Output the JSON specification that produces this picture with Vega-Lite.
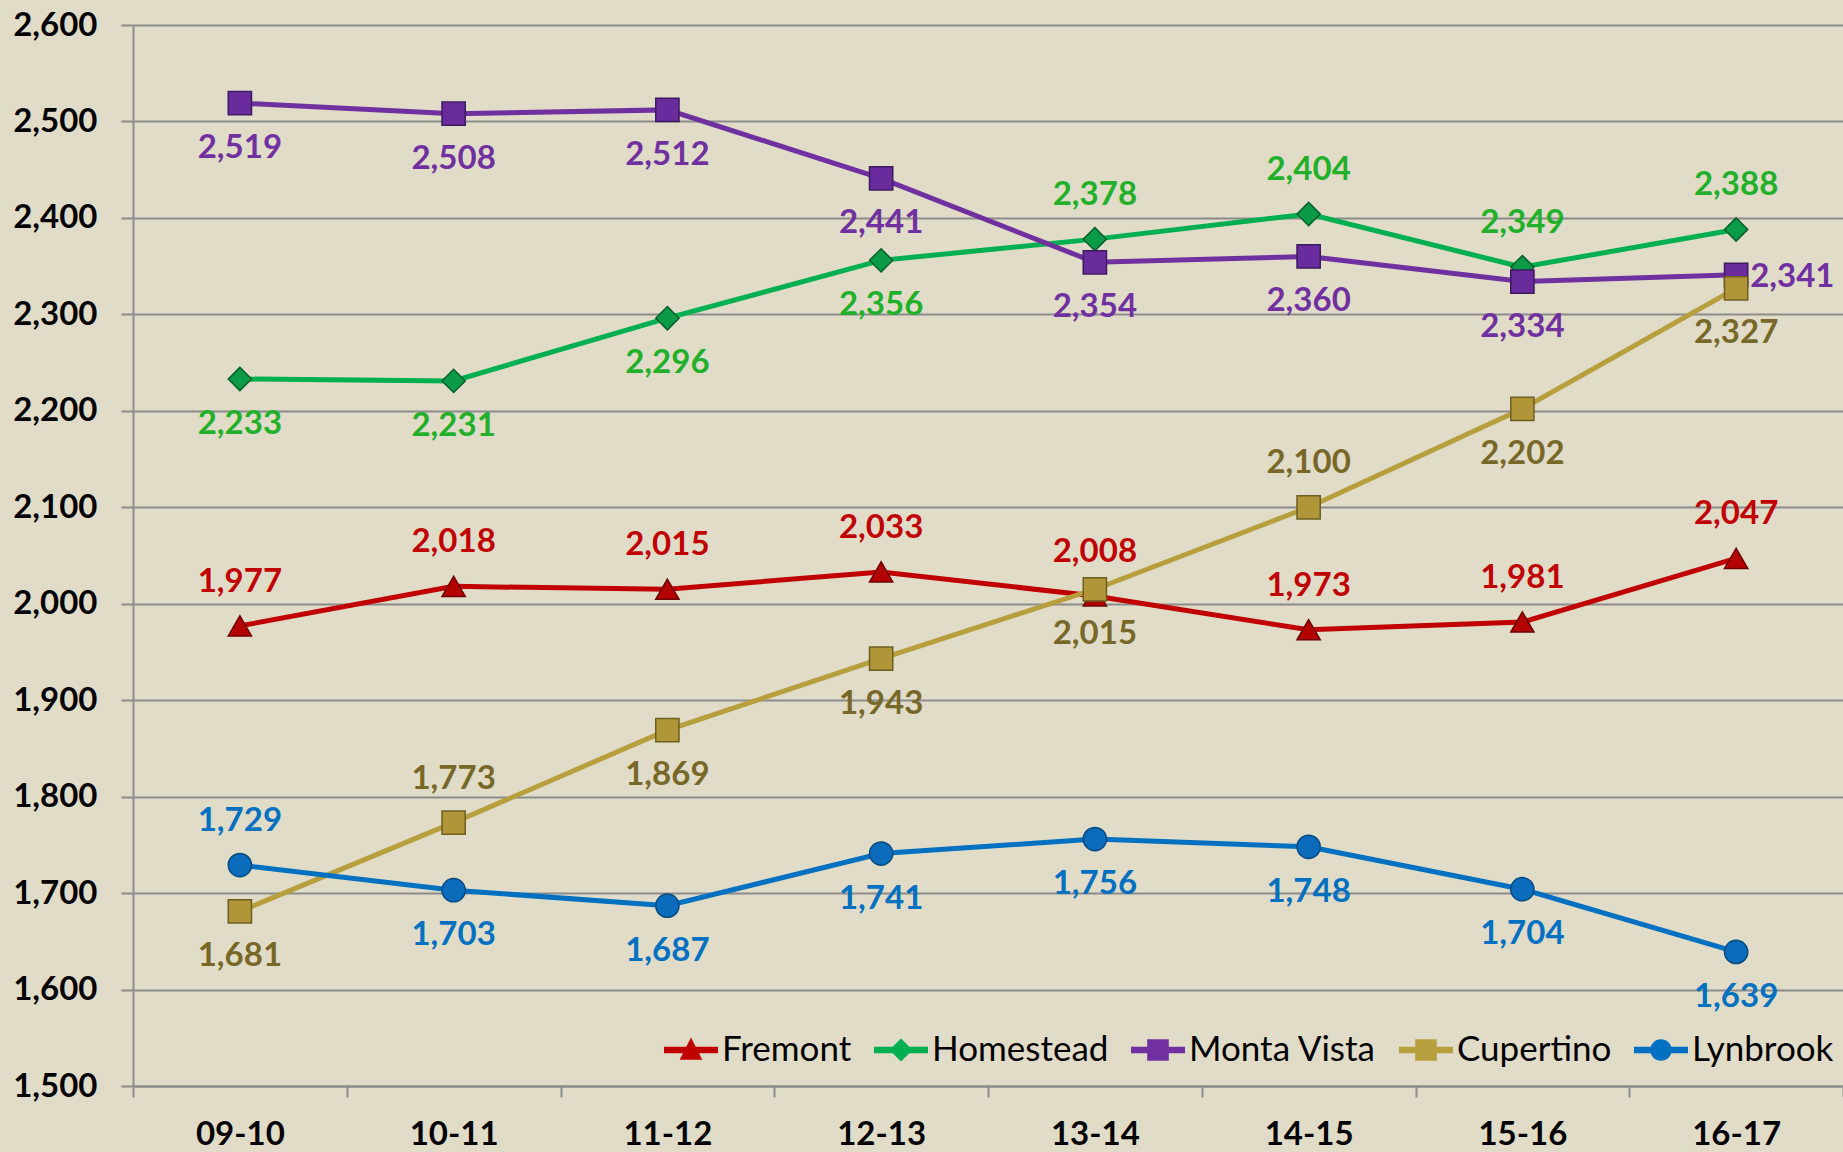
{
  "$schema": "https://vega.github.io/schema/vega-lite/v6.json",
  "width": 1710,
  "height": 1061,
  "autosize": {"type": "none"},
  "padding": {"left": 133, "top": 25, "right": 0, "bottom": 66},
  "background": "#e0dcc8",
  "config": {
    "font": "Lato",
    "view": {"stroke": null, "fill": "#e0dcc8"}
  },
  "data": {
    "values": [
      {"school": "Fremont", "year": "09-10", "value": 1977},
      {"school": "Fremont", "year": "10-11", "value": 2018},
      {"school": "Fremont", "year": "11-12", "value": 2015},
      {"school": "Fremont", "year": "12-13", "value": 2033},
      {"school": "Fremont", "year": "13-14", "value": 2008},
      {"school": "Fremont", "year": "14-15", "value": 1973},
      {"school": "Fremont", "year": "15-16", "value": 1981},
      {"school": "Fremont", "year": "16-17", "value": 2047},
      {"school": "Homestead", "year": "09-10", "value": 2233},
      {"school": "Homestead", "year": "10-11", "value": 2231},
      {"school": "Homestead", "year": "11-12", "value": 2296},
      {"school": "Homestead", "year": "12-13", "value": 2356},
      {"school": "Homestead", "year": "13-14", "value": 2378},
      {"school": "Homestead", "year": "14-15", "value": 2404},
      {"school": "Homestead", "year": "15-16", "value": 2349},
      {"school": "Homestead", "year": "16-17", "value": 2388},
      {"school": "Monta Vista", "year": "09-10", "value": 2519},
      {"school": "Monta Vista", "year": "10-11", "value": 2508},
      {"school": "Monta Vista", "year": "11-12", "value": 2512},
      {"school": "Monta Vista", "year": "12-13", "value": 2441},
      {"school": "Monta Vista", "year": "13-14", "value": 2354},
      {"school": "Monta Vista", "year": "14-15", "value": 2360},
      {"school": "Monta Vista", "year": "15-16", "value": 2334},
      {"school": "Monta Vista", "year": "16-17", "value": 2341},
      {"school": "Cupertino", "year": "09-10", "value": 1681},
      {"school": "Cupertino", "year": "10-11", "value": 1773},
      {"school": "Cupertino", "year": "11-12", "value": 1869},
      {"school": "Cupertino", "year": "12-13", "value": 1943},
      {"school": "Cupertino", "year": "13-14", "value": 2015},
      {"school": "Cupertino", "year": "14-15", "value": 2100},
      {"school": "Cupertino", "year": "15-16", "value": 2202},
      {"school": "Cupertino", "year": "16-17", "value": 2327},
      {"school": "Lynbrook", "year": "09-10", "value": 1729},
      {"school": "Lynbrook", "year": "10-11", "value": 1703},
      {"school": "Lynbrook", "year": "11-12", "value": 1687},
      {"school": "Lynbrook", "year": "12-13", "value": 1741},
      {"school": "Lynbrook", "year": "13-14", "value": 1756},
      {"school": "Lynbrook", "year": "14-15", "value": 1748},
      {"school": "Lynbrook", "year": "15-16", "value": 1704},
      {"school": "Lynbrook", "year": "16-17", "value": 1639}
    ]
  },
  "encoding": {
    "x": {
      "field": "year",
      "type": "ordinal",
      "sort": null,
      "scale": {"type": "band", "paddingInner": 0, "paddingOuter": 0},
      "axis": {
        "title": null,
        "tickBand": "extent",
        "labelAngle": 0,
        "labelFont": "Lato",
        "labelFontSize": 33,
        "labelFontWeight": "bold",
        "labelColor": "#000000",
        "labelPadding": 21,
        "tickSize": 11,
        "tickWidth": 2,
        "tickColor": "#8c8c8c",
        "domainColor": "#8c8c8c",
        "domainWidth": 2,
        "grid": false
      }
    },
    "y": {
      "field": "value",
      "type": "quantitative",
      "scale": {"domain": [1500, 2600], "nice": false, "zero": false},
      "axis": {
        "title": null,
        "values": [1500, 1600, 1700, 1800, 1900, 2000, 2100, 2200, 2300, 2400, 2500, 2600],
        "format": ",.0f",
        "labelFont": "Lato",
        "labelFontSize": 33,
        "labelFontWeight": "bold",
        "labelColor": "#000000",
        "labelPadding": 24,
        "tickSize": 12,
        "tickWidth": 2,
        "tickColor": "#8c8c8c",
        "domainColor": "#8c8c8c",
        "domainWidth": 2,
        "grid": true,
        "gridColor": "#8c8c8c",
        "gridWidth": 2
      }
    }
  },
  "layer": [
    {
      "mark": {"type": "line", "strokeWidth": 5},
      "encoding": {
        "color": {
          "field": "school",
          "type": "nominal",
          "scale": {
            "domain": ["Fremont", "Homestead", "Monta Vista", "Cupertino", "Lynbrook"],
            "range": ["#c00000", "#00b050", "#7030a0", "#b89f3e", "#0070c0"]
          },
          "legend": null
        }
      }
    },
    {
      "mark": {"type": "point", "filled": true, "size": 540, "strokeWidth": 1.5, "opacity": 1},
      "encoding": {
        "shape": {
          "field": "school",
          "type": "nominal",
          "scale": {
            "domain": ["Fremont", "Homestead", "Monta Vista", "Cupertino", "Lynbrook"],
            "range": ["triangle-up", "diamond", "square", "square", "circle"]
          },
          "legend": null
        },
        "fill": {
          "field": "school",
          "type": "nominal",
          "scale": {
            "domain": ["Fremont", "Homestead", "Monta Vista", "Cupertino", "Lynbrook"],
            "range": ["#b50000", "#0a9a48", "#6a2c9c", "#b09638", "#0a6cba"]
          },
          "legend": null
        },
        "stroke": {
          "field": "school",
          "type": "nominal",
          "scale": {
            "domain": ["Fremont", "Homestead", "Monta Vista", "Cupertino", "Lynbrook"],
            "range": ["#6e0000", "#05602c", "#3e1a60", "#6e5f20", "#064a80"]
          },
          "legend": null
        }
      }
    },
    {
      "transform": [
        {"filter": "datum.school === 'Fremont' || (datum.school === 'Homestead' && (datum.year === '13-14' || datum.year === '14-15' || datum.year === '15-16' || datum.year === '16-17')) || (datum.school === 'Cupertino' && (datum.year === '10-11' || datum.year === '14-15')) || (datum.school === 'Lynbrook' && datum.year === '09-10')"}
      ],
      "mark": {"type": "text", "dy": -44, "baseline": "middle", "align": "center", "font": "Lato", "fontSize": 33, "fontWeight": "bold"},
      "encoding": {
        "text": {"field": "value", "type": "quantitative", "format": ","},
        "color": {
          "field": "school",
          "type": "nominal",
          "scale": {
            "domain": ["Fremont", "Homestead", "Monta Vista", "Cupertino", "Lynbrook"],
            "range": ["#c00000", "#22b02a", "#7030a0", "#786828", "#0070c0"]
          },
          "legend": null
        }
      }
    },
    {
      "transform": [
        {"filter": "!(datum.school === 'Fremont' || (datum.school === 'Homestead' && (datum.year === '13-14' || datum.year === '14-15' || datum.year === '15-16' || datum.year === '16-17')) || (datum.school === 'Cupertino' && (datum.year === '10-11' || datum.year === '14-15')) || (datum.school === 'Lynbrook' && datum.year === '09-10')) && !(datum.school === 'Monta Vista' && datum.year === '16-17')"}
      ],
      "mark": {"type": "text", "dy": 45, "baseline": "middle", "align": "center", "font": "Lato", "fontSize": 33, "fontWeight": "bold"},
      "encoding": {
        "text": {"field": "value", "type": "quantitative", "format": ","},
        "color": {
          "field": "school",
          "type": "nominal",
          "scale": {
            "domain": ["Fremont", "Homestead", "Monta Vista", "Cupertino", "Lynbrook"],
            "range": ["#c00000", "#22b02a", "#7030a0", "#786828", "#0070c0"]
          },
          "legend": null
        }
      }
    },
    {
      "transform": [
        {"filter": "datum.school === 'Monta Vista' && datum.year === '16-17'"}
      ],
      "mark": {"type": "text", "dx": 14, "dy": 2, "baseline": "middle", "align": "left", "font": "Lato", "fontSize": 33, "fontWeight": "bold"},
      "encoding": {
        "text": {"field": "value", "type": "quantitative", "format": ","},
        "color": {
          "field": "school",
          "type": "nominal",
          "scale": {
            "domain": ["Fremont", "Homestead", "Monta Vista", "Cupertino", "Lynbrook"],
            "range": ["#c00000", "#22b02a", "#7030a0", "#786828", "#0070c0"]
          },
          "legend": null
        }
      }
    },
    {
      "mark": {"type": "point", "filled": true, "opacity": 0},
      "encoding": {
        "color": {
          "field": "school",
          "type": "nominal",
          "scale": {
            "domain": ["Fremont", "Homestead", "Monta Vista", "Cupertino", "Lynbrook"],
            "range": ["#c00000", "#00b050", "#7030a0", "#b89f3e", "#0070c0"]
          },
          "legend": {
            "title": null,
            "orient": "none",
            "legendX": 531,
            "legendY": 998,
            "direction": "horizontal",
            "padding": 0,
            "symbolSize": 2916,
            "symbolStrokeWidth": 0,
            "symbolOpacity": 1,
            "labelFont": "Lato",
            "labelFontSize": 35,
            "labelColor": "#000000",
            "labelOffset": 4,
            "columnPadding": 22,
            "labelLimit": 400
          }
        },
        "shape": {
          "field": "school",
          "type": "nominal",
          "scale": {
            "domain": ["Fremont", "Homestead", "Monta Vista", "Cupertino", "Lynbrook"],
            "range": [
              "M-1,-0.12L1,-0.12L1,0.12L-1,0.12Z M0,-0.46L0.42,0.36L-0.42,0.36Z",
              "M-1,-0.12L1,-0.12L1,0.12L-1,0.12Z M0,-0.43L0.43,0L0,0.43L-0.43,0Z",
              "M-1,-0.12L1,-0.12L1,0.12L-1,0.12Z M-0.4,-0.4L0.4,-0.4L0.4,0.4L-0.4,0.4Z",
              "M-1,-0.12L1,-0.12L1,0.12L-1,0.12Z M-0.4,-0.4L0.4,-0.4L0.4,0.4L-0.4,0.4Z",
              "M-1,-0.12L1,-0.12L1,0.12L-1,0.12Z M-0.4,0A0.4,0.4 0 1,1 0.4,0A0.4,0.4 0 1,1 -0.4,0Z"
            ]
          },
          "legend": {
            "title": null,
            "orient": "none",
            "legendX": 531,
            "legendY": 998,
            "direction": "horizontal",
            "padding": 0,
            "symbolSize": 2916,
            "symbolStrokeWidth": 0,
            "symbolOpacity": 1,
            "labelFont": "Lato",
            "labelFontSize": 35,
            "labelColor": "#000000",
            "labelOffset": 4,
            "columnPadding": 22,
            "labelLimit": 400
          }
        }
      }
    }
  ],
  "resolve": {"scale": {"color": "independent", "shape": "independent"}}
}
